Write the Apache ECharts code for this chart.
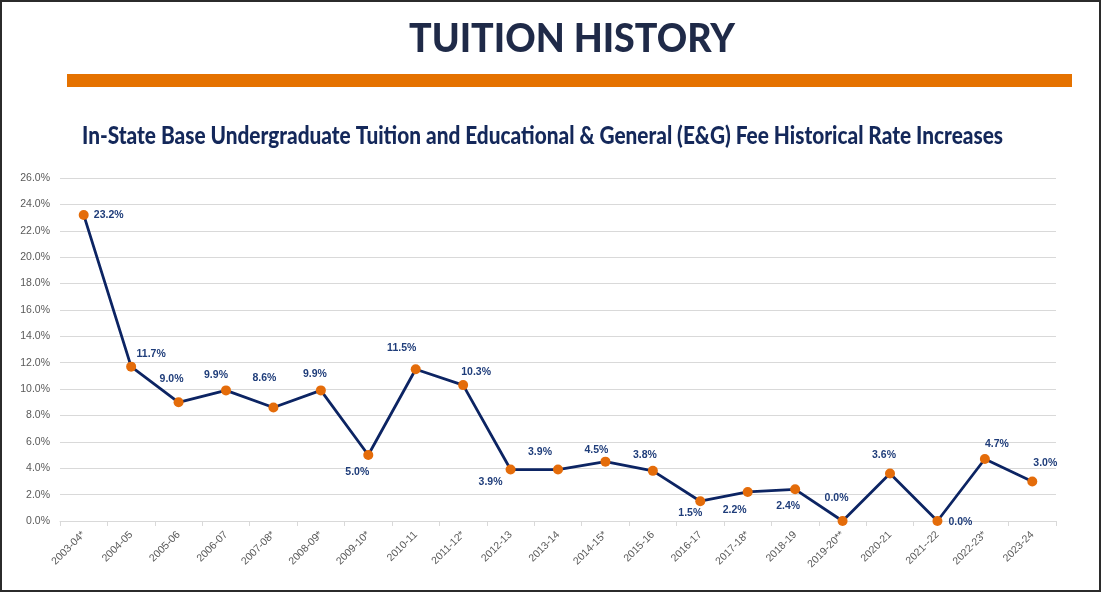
<!DOCTYPE html>
<html>
<head>
<meta charset="utf-8">
<script src="https://cdn.jsdelivr.net/npm/echarts@6/dist/echarts.min.js"></script>
<style>
html, body { margin: 0; padding: 0; background: #fff; }
#chart { width: 1101px; height: 592px; box-sizing: border-box; border: 2px solid #2b2b2b; }
</style>
</head>
<body>
<div id="chart"></div>
<script>
// school years
var years = ['2003-04*', '2004-05', '2005-06', '2006-07', '2007-08*', '2008-09*', '2009-10*',
	'2010-11', '2011-12*', '2012-13', '2013-14', '2014-15*', '2015-16', '2016-17', '2017-18*',
	'2018-19', '2019-20**', '2020-21', '2021--22', '2022-23*', '2023-24'];
// rate increase, percent
var rates = [23.2, 11.7, 9.0, 9.9, 8.6, 9.9, 5.0, 11.5, 10.3, 3.9, 3.9, 4.5, 3.8, 1.5, 2.2, 2.4, 0.0, 3.6, 0.0, 4.7, 3.0];
// where each value label sits, relative to its point
var labelOffsets = [[25, 0], [20, -13], [-7, -23], [-10, -15], [-9, -29], [-6, -16], [-11, 17],
	[-14, -21], [13, -13], [-20, 13], [-18, -17], [-9, -12], [-8, -16], [-10, 12], [-13, 18],
	[-7, 17], [-6, -23], [-6, -18], [23, 1], [12, -15], [13, -18]];

var titleText = 'TUITION HISTORY';
var subText = 'In-State Base Undergraduate Tuition and Educational & General (E&G) Fee Historical Rate Increases';

var chart = echarts.init(document.getElementById('chart'));

var points = [];
for(var i = 0; i < rates.length; i++) {
	points.push({
		value: rates[i],
		label: { offset: labelOffsets[i] }
	});
}

// squeeze the headings to the widths they take in the slide
var titleFont = '900 40px Lato';
var subFont = '900 25px Lato';
var measure = document.createElement('canvas').getContext('2d');
measure.font = subFont;
var subScale = 921 / measure.measureText(subText).width;
measure.font = titleFont;
var titleScale = 326 / measure.measureText(titleText).width;

var option = {
	backgroundColor: '#fff',
	animation: false,
	graphic: [{
		type: 'text',
		x: 570,
		y: 37,
		scaleX: titleScale,
		style: {
			text: titleText,
			font: titleFont,
			fill: '#1f2a48',
			textAlign: 'center',
			textVerticalAlign: 'middle'
		}
	}, {
		type: 'rect',
		shape: { x: 65, y: 72, width: 1005, height: 13 },
		style: { fill: '#e57200' }
	}, {
		type: 'text',
		x: 80,
		y: 134,
		scaleX: subScale,
		style: {
			text: subText,
			font: subFont,
			fill: '#14285a',
			textAlign: 'left',
			textVerticalAlign: 'middle'
		}
	}],
	grid: {
		left: 58,
		right: 43,
		top: 176,
		bottom: 69
	},
	xAxis: {
		type: 'category',
		data: years,
		boundaryGap: true,
		axisLine: { lineStyle: { color: '#d9d9d9', width: 1 } },
		axisTick: { show: true, length: 5, lineStyle: { color: '#d9d9d9' } },
		axisLabel: {
			rotate: 45,
			interval: 0,
			fontSize: 10.5,
			fontFamily: 'Liberation Sans',
			color: '#595959',
			margin: 12
		}
	},
	yAxis: {
		type: 'value',
		min: 0,
		max: 26,
		interval: 2,
		axisLine: { show: false },
		axisTick: { show: false },
		splitLine: { lineStyle: { color: '#d9d9d9', width: 1 } },
		axisLabel: {
			fontSize: 10.5,
			fontFamily: 'Liberation Sans',
			color: '#595959',
			margin: 10,
			formatter: function(v) { return v.toFixed(1) + '%'; }
		}
	},
	series: [{
		type: 'line',
		data: points,
		symbol: 'circle',
		symbolSize: 10,
		lineStyle: { color: '#0c2463', width: 2.8 },
		itemStyle: { color: '#e46c0a', borderWidth: 0 },
		label: {
			show: true,
			position: 'inside',
			fontSize: 10.5,
			fontWeight: 'bold',
			fontFamily: 'Liberation Sans',
			color: '#1f3d7a',
			formatter: function(p) { return p.value.toFixed(1) + '%'; }
		},
		z: 3
	}]
};

chart.setOption(option);
</script>
</body>
</html>
